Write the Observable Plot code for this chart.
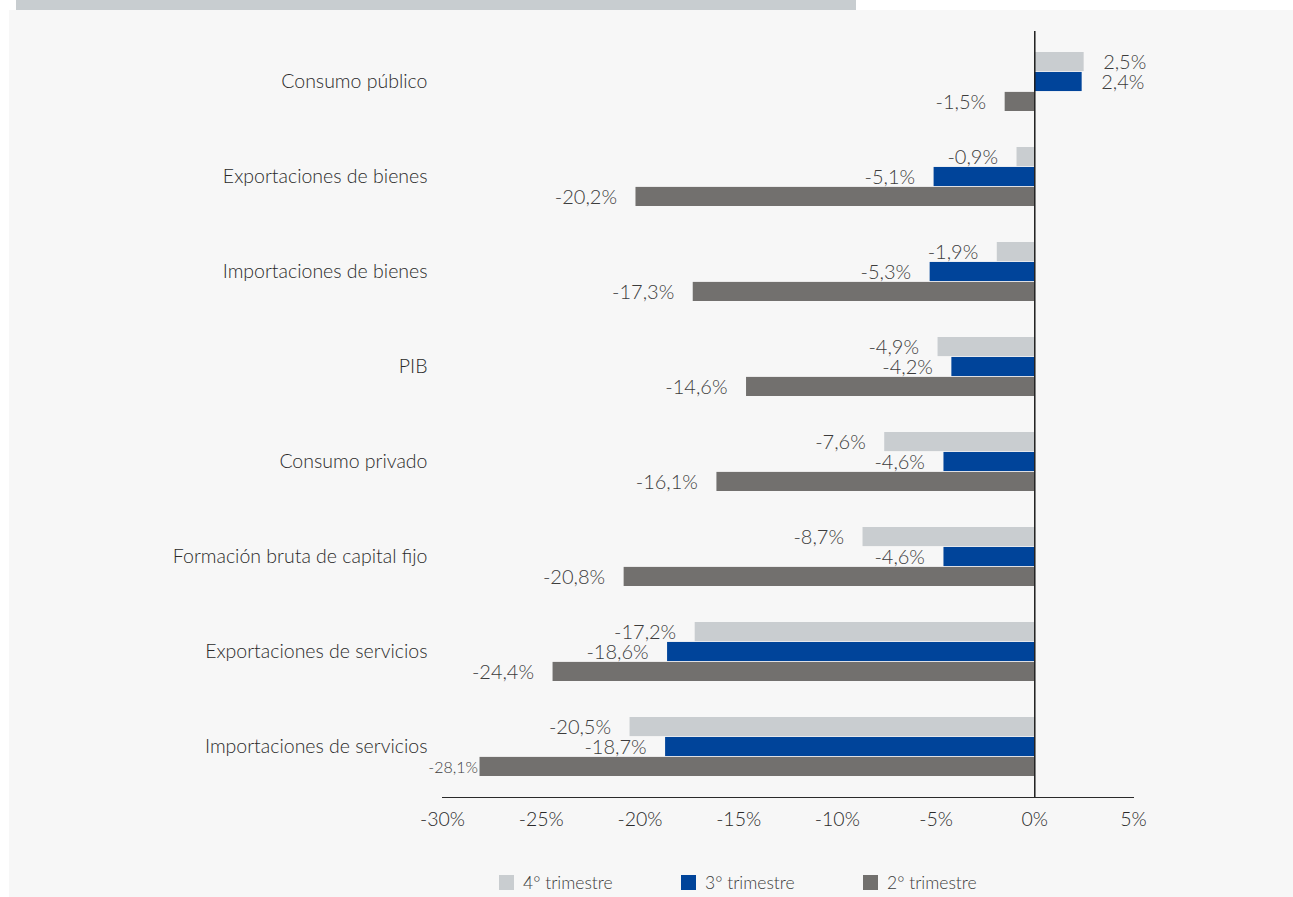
<!DOCTYPE html>
<html>
<head>
<meta charset="utf-8">
<script src="https://cdn.jsdelivr.net/npm/d3@7"></script>
<script src="https://cdn.jsdelivr.net/npm/@observablehq/plot@0.6"></script>
<style>
  html, body { margin: 0; padding: 0; background: #ffffff; }
  body { width: 1293px; height: 897px; position: relative; overflow: hidden; font-family: Lato, "Open Sans", sans-serif; font-weight: 300; color: #3c3c3c; }
  #topbar { position: absolute; left: 16px; top: 0; width: 840px; height: 10px; background: #c8cdd0; }
  #panel { position: absolute; left: 9px; top: 10px; width: 1284px; height: 887px; background: #f7f7f7; }
  #chart { position: absolute; left: 0; top: 0; }
  #legend { position: absolute; left: 490px; top: 862px; display: flex; font-size: 17.5px; }
  .item { width: 182px; display: flex; align-items: center; }
  .sw { width: 15px; height: 15px; margin-right: 9px; }
</style>
</head>
<body>
<div id="topbar"></div>
<div id="panel">
  <div id="chart"></div>
  <div id="legend"></div>
</div>
<script>
const categories = [
  "Consumo público",
  "Exportaciones de bienes",
  "Importaciones de bienes",
  "PIB",
  "Consumo privado",
  "Formación bruta de capital fijo",
  "Exportaciones de servicios",
  "Importaciones de servicios"
];
const series = ["4° trimestre", "3° trimestre", "2° trimestre"];
const q4 = [2.5, -0.9, -1.9, -4.9, -7.6, -8.7, -17.2, -20.5];
const q3 = [2.4, -5.1, -5.3, -4.2, -4.6, -4.6, -18.6, -18.7];
const q2 = [-1.5, -20.2, -17.3, -14.6, -16.1, -20.8, -24.4, -28.1];
const xTicks = [-30, -25, -20, -15, -10, -5, 0, 5];
const colors = ["#c9cdd0", "#00449a", "#72706e"];

const seriesValues = [q4, q3, q2];
const rows = [];
series.forEach((s, i) => {
  categories.forEach((c, j) => rows.push({category: c, series: s, idx: i, value: seriesValues[i][j]}));
});

const fmt = d => d.value.toFixed(1).replace(".", ",") + "%";
const third = 19.95;

const marks = [];
series.forEach((s, i) => {
  const data = rows.filter(d => d.idx === i);
  marks.push(Plot.barX(data, {
    x: "value", y: "category", fill: "series",
    insetTop: i * third, insetBottom: (2 - i) * third
  }));
  const dy = (i - 1) * third + 1;
  marks.push(Plot.text(data.filter(d => d.value >= 0), {
    x: "value", y: "category", text: fmt, dx: 19, dy, textAnchor: "start", fill: "#3c3c3c", fontSize: 20
  }));
  marks.push(Plot.text(data.filter(d => d.value < 0 && d.value >= -26), {
    x: "value", y: "category", text: fmt, dx: -19, dy, textAnchor: "end", fill: "#3c3c3c", fontSize: 20
  }));
  marks.push(Plot.text(data.filter(d => d.value < -26), {
    x: "value", y: "category", text: fmt, dx: -2, dy, textAnchor: "end", fill: "#3c3c3c", fontSize: 16,
    fontStretch: "condensed"
  }));
});
marks.push(Plot.ruleX([0], {stroke: "#1e1e1e", strokeWidth: 1.5}));

const chart = Plot.plot({
  width: 1284,
  height: 850,
  marginLeft: 433,
  marginRight: 160,
  marginTop: 21,
  marginBottom: 63,
  style: {background: "transparent", fontFamily: "Lato, 'Open Sans', sans-serif", fontWeight: 300, fontSize: "19.5px", color: "#2a2a2a"},
  x: {domain: [-30, 5], ticks: xTicks, tickFormat: d => `${d}%`, tickSize: 0, tickPadding: 15, line: true, label: null},
  y: {domain: categories, paddingInner: 0.375, paddingOuter: 0.1875, tickSize: 0, tickPadding: 15, label: null},
  color: {domain: series, range: colors},
  marks
});
document.getElementById("chart").appendChild(chart);

const legend = document.getElementById("legend");
series.forEach((s, i) => {
  const item = document.createElement("div");
  item.className = "item";
  const sw = document.createElement("span");
  sw.className = "sw";
  sw.style.background = colors[i];
  const t = document.createElement("span");
  t.textContent = s;
  item.appendChild(sw);
  item.appendChild(t);
  legend.appendChild(item);
});
</script>
</body>
</html>
